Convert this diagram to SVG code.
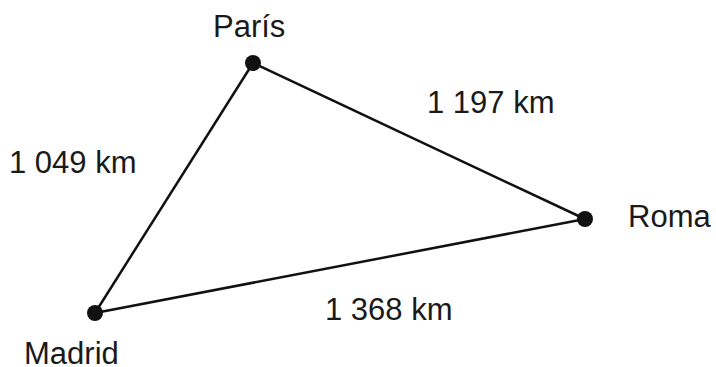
<svg xmlns="http://www.w3.org/2000/svg" width="716" height="367" viewBox="0 0 716 367">
<style>
text{font-family:"Liberation Sans",Arial,sans-serif;font-size:31px;fill:#1a1a1a}
.e{stroke:#111;stroke-width:2.5;fill:none}
.d{fill:#111}
</style>
<rect width="716" height="367" fill="#fff"/>
<g id="connectors">
<line class="e" x1="253" y1="63" x2="585" y2="219"/>
<line class="e" x1="253" y1="63" x2="95" y2="313"/>
<line class="e" x1="95" y1="313" x2="585" y2="219"/>
<text x="427" y="113">1 197 km</text>
<text x="9" y="173">1 049 km</text>
<text x="325" y="320">1 368 km</text>
</g>
<g id="paris"><circle class="d" cx="253" cy="63" r="8"/><text x="213" y="37">París</text></g>
<g id="roma"><circle class="d" cx="585" cy="219" r="8"/><text x="628" y="227">Roma</text></g>
<g id="madrid"><circle class="d" cx="95" cy="313" r="8"/><text x="24" y="364">Madrid</text></g>
</svg>
